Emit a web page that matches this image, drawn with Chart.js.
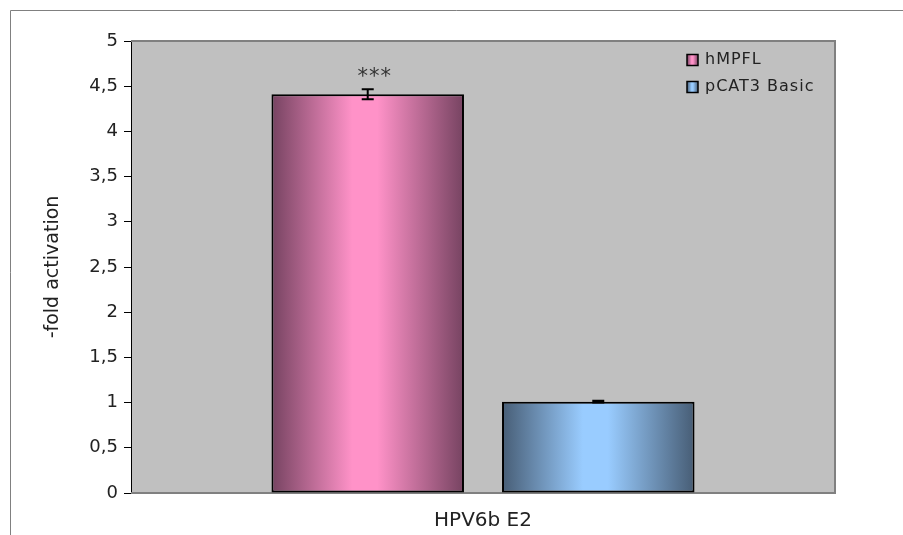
<!DOCTYPE html>
<html>
<head>
<meta charset="utf-8">
<script src="https://cdn.jsdelivr.net/npm/chart.js@4.4.1/dist/chart.umd.min.js"></script>
<style>
  body { margin: 0; background: #fff; }
</style>
</head>
<body>
<canvas id="foldChart" width="903" height="535"></canvas>
<script>
// data
const categories = ['HPV6b E2'];
const seriesNames = ['hMPFL', 'pCAT3 Basic'];
const hmpflValues = [4.41];
const pcat3Values = [1.01];
const hmpflErrors = [0.055];
const pcat3Errors = [0.01];
const hmpflMarks = ['***'];
const pcat3Marks = [''];
const yTickLabels = ['0', '0,5', '1', '1,5', '2', '2,5', '3', '3,5', '4', '4,5', '5'];

const errorSets = [hmpflErrors, pcat3Errors];
const markSets = [hmpflMarks, pcat3Marks];

// dark edge / light centre, like the excel bars
const darkShade = ['#764361', '#475d75'];
const lightShade = ['#ff92c8', '#99ccff'];
const fontName = 'DejaVu Sans';

function barGradient(ctx, x0, x1, dark, light) {
    let g = ctx.createLinearGradient(x0, 0, x1, 0);
    g.addColorStop(0, dark);
    g.addColorStop(0.42, light);
    g.addColorStop(0.55, light);
    g.addColorStop(1, dark);
    return g;
}

function barFill(i) {
    return function (c) {
        const el = c.element;
        if (!el || !isFinite(el.x) || !isFinite(el.width)) {
            return lightShade[i];
        }
        return barGradient(c.chart.ctx, el.x - el.width / 2, el.x + el.width / 2, darkShade[i], lightShade[i]);
    };
}

// grey plot area + outer frame
const plotBackground = {
    id: 'plotBackground',
    beforeDraw(chart) {
        const {ctx, chartArea: a} = chart;
        ctx.save();
        ctx.fillStyle = '#c0c0c0';
        ctx.fillRect(a.left, a.top, a.right - a.left, a.bottom - a.top);
        ctx.strokeStyle = '#808080';
        ctx.lineWidth = 1;
        ctx.beginPath();
        ctx.moveTo(10.5, chart.height);
        ctx.lineTo(10.5, 10.5);
        ctx.lineTo(chart.width, 10.5);
        ctx.stroke();
        ctx.restore();
    },
    beforeDatasetsDraw(chart) {
        const {ctx, chartArea: a} = chart;
        ctx.save();
        ctx.strokeStyle = '#808080';
        ctx.lineWidth = 2;
        ctx.beginPath();
        ctx.moveTo(a.left, a.top);
        ctx.lineTo(a.right, a.top);
        ctx.lineTo(a.right, a.bottom);
        ctx.lineTo(a.left, a.bottom);
        ctx.stroke();
        ctx.restore();
    }
};

// error bars and significance stars
const errorBars = {
    id: 'errorBars',
    afterDatasetsDraw(chart) {
        const ctx = chart.ctx;
        const yScale = chart.scales.y;
        ctx.save();
        chart.data.datasets.forEach((ds, i) => {
            const meta = chart.getDatasetMeta(i);
            meta.data.forEach((bar, j) => {
                const v = ds.data[j];
                const err = errorSets[i][j];
                const yTop = yScale.getPixelForValue(v + err);
                const yBot = yScale.getPixelForValue(v - err);
                ctx.strokeStyle = '#000';
                ctx.lineWidth = 2;
                ctx.beginPath();
                ctx.moveTo(bar.x, yTop);
                ctx.lineTo(bar.x, yBot);
                ctx.moveTo(bar.x - 6, yTop);
                ctx.lineTo(bar.x + 6, yTop);
                ctx.moveTo(bar.x - 6, yBot);
                ctx.lineTo(bar.x + 6, yBot);
                ctx.stroke();
                const mark = markSets[i][j];
                if (mark) {
                    ctx.fillStyle = '#333';
                    ctx.font = '21px "' + fontName + '"';
                    ctx.letterSpacing = '1px';
                    ctx.textAlign = 'center';
                    ctx.textBaseline = 'middle';
                    ctx.fillText(mark, bar.x + 7, yTop - 12);
                }
            });
        });
        ctx.restore();
    }
};

// legend drawn inside the plot, top right
const insideLegend = {
    id: 'insideLegend',
    afterDraw(chart) {
        const {ctx, chartArea: a} = chart;
        ctx.save();
        ctx.font = '16px "' + fontName + '"';
        ctx.letterSpacing = '1px';
        ctx.textBaseline = 'middle';
        ctx.textAlign = 'left';
        chart.data.datasets.forEach((ds, i) => {
            const bx = a.right - 148;
            const cy = a.top + 19 + i * 27;
            ctx.fillStyle = barGradient(ctx, bx, bx + 11, darkShade[i], lightShade[i]);
            ctx.fillRect(bx, cy - 5.5, 11, 11);
            ctx.strokeStyle = '#000';
            ctx.lineWidth = 1.5;
            ctx.strokeRect(bx, cy - 5.5, 11, 11);
            ctx.fillStyle = '#222';
            ctx.fillText(ds.label, bx + 18, cy);
        });
        ctx.restore();
    }
};

function CreateChart() {
    let ctx = document.getElementById('foldChart').getContext('2d');
    let foldChart = new Chart(ctx, {
        type: 'bar',
        data: {
            labels: categories,
            datasets: [{
                label: seriesNames[0],
                data: hmpflValues,
                backgroundColor: barFill(0),
                borderColor: '#000',
                borderWidth: 2,
                borderSkipped: false
            }, {
                label: seriesNames[1],
                data: pcat3Values,
                backgroundColor: barFill(1),
                borderColor: '#000',
                borderWidth: 2,
                borderSkipped: false
            }]
        },
        options: {
            responsive: false,
            animation: false,
            categoryPercentage: 0.655,
            barPercentage: 0.835,
            layout: {
                padding: {left: 0, top: 41, right: 68, bottom: 0}
            },
            plugins: {
                legend: {display: false},
                tooltip: {enabled: false}
            },
            scales: {
                x: {
                    ticks: {display: false},
                    grid: {display: false},
                    border: {display: false},
                    title: {
                        display: true,
                        text: categories[0],
                        color: '#222',
                        font: {family: fontName, size: 20},
                        padding: {top: 0, bottom: 2}
                    },
                    afterFit: (s) => { s.height = 42; }
                },
                y: {
                    min: 0,
                    max: 5,
                    ticks: {
                        stepSize: 0.5,
                        color: '#222',
                        padding: 6,
                        font: {family: fontName, size: 18},
                        callback: (v, i) => yTickLabels[i]
                    },
                    grid: {drawOnChartArea: false, drawTicks: true, tickLength: 7, color: '#000'},
                    border: {display: true, color: '#000', width: 1},
                    title: {
                        display: true,
                        text: '-fold activation',
                        color: '#222',
                        font: {family: fontName, size: 19},
                        padding: {top: 42, bottom: 0}
                    },
                    afterFit: (s) => { s.width = 131; }
                }
            }
        },
        plugins: [plotBackground, errorBars, insideLegend]
    });
    // second pass so the gradients know where the bars are
    foldChart.update('none');
}

CreateChart();
</script>
</body>
</html>
